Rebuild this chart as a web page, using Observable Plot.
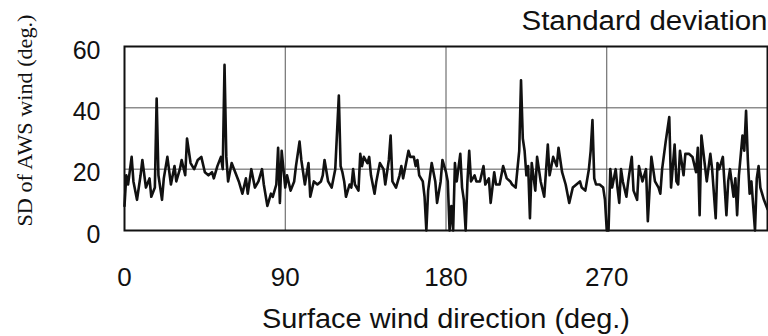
<!DOCTYPE html>
<html>
<head>
<meta charset="utf-8">
<script src="https://cdn.jsdelivr.net/npm/d3@7"></script>
<script src="https://cdn.jsdelivr.net/npm/@observablehq/plot@0.6"></script>
<style>
  html, body { margin: 0; padding: 0; background: #fff; }
  #chart { width: 768px; height: 336px; overflow: hidden; }
</style>
</head>
<body>
<div id="chart"></div>
<script>
// Surface wind direction (deg.) at which each SD value was computed
const direction = [
  0, 1, 2, 4, 5, 7, 9, 10, 12, 14, 15, 17, 18, 19, 21, 22, 24, 26, 28, 29,
  31, 32, 34, 35, 37, 39, 41, 43, 45, 47, 49, 50, 52, 54, 55, 56, 57, 58, 60, 62,
  64, 66, 68, 69, 71, 73, 75, 77, 78, 80, 82, 83, 85, 86, 87, 88, 90, 91, 93, 95,
  96, 98, 99, 101, 103, 104, 106, 108, 110, 111, 112, 114, 116, 118, 120, 121, 122, 123, 124, 126,
  127, 128, 129, 131, 132, 133, 134, 136, 137, 138, 140, 141, 143, 145, 146, 148, 149, 150, 152, 154,
  155, 156, 158, 159, 160, 162, 163, 164, 165, 167, 168, 169, 170, 172, 174, 175, 177, 178, 180, 181,
  182, 183, 184, 185, 186, 188, 189, 190, 191, 192, 193, 194, 196, 197, 199, 201, 202, 204, 205, 207,
  208, 210, 212, 214, 216, 217, 219, 220, 221, 222, 223, 224, 225, 226, 227, 228, 230, 231, 233, 235,
  237, 238, 240, 242, 243, 245, 247, 249, 251, 253, 255, 256, 258, 260, 261, 262, 263, 264, 266, 268,
  269, 270, 271, 272, 273, 275, 276, 277, 278, 279, 281, 282, 284, 285, 287, 288, 290, 292, 293, 295,
  297, 299, 300, 301, 303, 305, 306, 308, 309, 310, 311, 313, 314, 316, 318, 320, 321, 322, 323, 325,
  326, 328, 329, 331, 332, 333, 335, 337, 338, 339, 341, 342, 343, 344, 346, 347, 348, 349, 350, 351,
  353, 354, 355, 356, 358, 360
];

// Standard deviation of AWS wind direction (deg.)
const sdDeg = [
  8, 18, 15, 24, 16, 10, 18, 23, 14, 17, 11, 14, 43, 18, 10, 17, 24, 15, 21, 16,
  20, 23, 18, 30, 22, 20, 23, 24, 19, 18, 19, 17, 21, 24, 20, 54, 24, 16, 22, 19,
  16, 12, 17, 12, 20, 14, 16, 20, 15, 8, 12, 11, 15, 27, 9, 26, 14, 18, 13, 16,
  21, 29, 23, 15, 22, 11, 16, 15, 16, 18, 23, 16, 14, 20, 44, 21, 19, 16, 11, 15,
  14, 20, 15, 13, 25, 21, 24, 22, 24, 18, 12, 16, 22, 20, 15, 23, 31, 16, 14, 18,
  21, 17, 23, 26, 24, 24, 21, 23, 18, 16, 11, 0, 13, 22, 16, 9, 16, 23, 19, 16,
  0, 8, 0, 22, 16, 25, 14, 10, 0, 16, 26, 16, 18, 16, 16, 21, 15, 17, 9, 19,
  15, 15, 21, 17, 16, 15, 14, 20, 26, 49, 30, 26, 18, 21, 4, 22, 13, 24, 16, 11,
  28, 18, 24, 21, 27, 19, 15, 9, 14, 15, 16, 14, 13, 20, 26, 36, 17, 15, 15, 14,
  10, 0, 0, 20, 14, 20, 14, 9, 20, 16, 11, 16, 24, 13, 10, 21, 16, 20, 3, 24,
  16, 14, 12, 20, 29, 37, 14, 28, 16, 15, 26, 18, 25, 25, 24, 19, 27, 5, 31, 21,
  16, 25, 20, 4, 22, 20, 24, 5, 16, 20, 11, 17, 5, 18, 31, 26, 39, 23, 12, 16,
  0, 17, 21, 14, 10, 7
];

const xTicks = [0, 90, 180, 270];
const yTicks = [0, 20, 40, 60];
const xGrid = [90, 180, 270];
const yGrid = [20, 40];

const titleText = "Standard deviation";
const xLabel = "Surface wind direction (deg.)";
const yLabel = "SD of AWS wind (deg.)";

const series = direction.map((d, i) => ({direction: d, sd: sdDeg[i]}));

const chart = Plot.plot({
  width: 768,
  height: 336,
  marginLeft: 124,
  marginRight: 1,
  marginTop: 46,
  marginBottom: 106,
  style: {background: "#fff", color: "#111", overflow: "visible"},
  x: {domain: [0, 360]},
  y: {domain: [0, 60]},
  marks: [
    Plot.ruleX(xGrid, {stroke: "#555", strokeWidth: 1}),
    Plot.ruleY(yGrid, {stroke: "#555", strokeWidth: 1}),
    Plot.line(series, {x: "direction", y: "sd", stroke: "#111", strokeWidth: 2.6, strokeLinejoin: "round"}),
    Plot.frame({stroke: "#111", strokeWidth: 2}),
    Plot.axisX(xTicks, {
      tickSize: 0, tickPadding: 37, label: null,
      fontSize: 26, fontFamily: "Liberation Sans, Arial, sans-serif", fill: "#111"
    }),
    Plot.axisY(yTicks, {
      tickSize: 0, tickPadding: 24, label: null, dy: 4,
      fontSize: 25, fontFamily: "Liberation Sans, Arial, sans-serif", fill: "#111"
    }),
    Plot.text([titleText], {
      frameAnchor: "top-right", textAnchor: "end", lineAnchor: "middle",
      dy: -25, fontSize: 27, fontFamily: "Liberation Sans, Arial, sans-serif", fill: "#111"
    }),
    Plot.text([xLabel], {
      frameAnchor: "bottom", lineAnchor: "middle",
      dy: 89, fontSize: 27, fontFamily: "Liberation Sans, Arial, sans-serif", fill: "#111"
    }),
    Plot.text([yLabel], {
      frameAnchor: "left", textAnchor: "middle", rotate: -90, lineAnchor: "middle",
      dx: -99, dy: -18, fontSize: 21, fontFamily: "Liberation Serif, Times New Roman, serif", fill: "#111"
    })
  ]
});

// Fit the long labels to their measured widths
chart.querySelectorAll("text").forEach(t => {
  if (t.textContent === titleText) {
    t.setAttribute("textLength", 246);
    t.setAttribute("lengthAdjust", "spacingAndGlyphs");
  } else if (t.textContent === xLabel) {
    t.setAttribute("textLength", 368);
    t.setAttribute("lengthAdjust", "spacingAndGlyphs");
  } else if (t.textContent === yLabel) {
    t.setAttribute("textLength", 212);
    t.setAttribute("lengthAdjust", "spacingAndGlyphs");
  }
});

document.getElementById("chart").appendChild(chart);
</script>
</body>
</html>
